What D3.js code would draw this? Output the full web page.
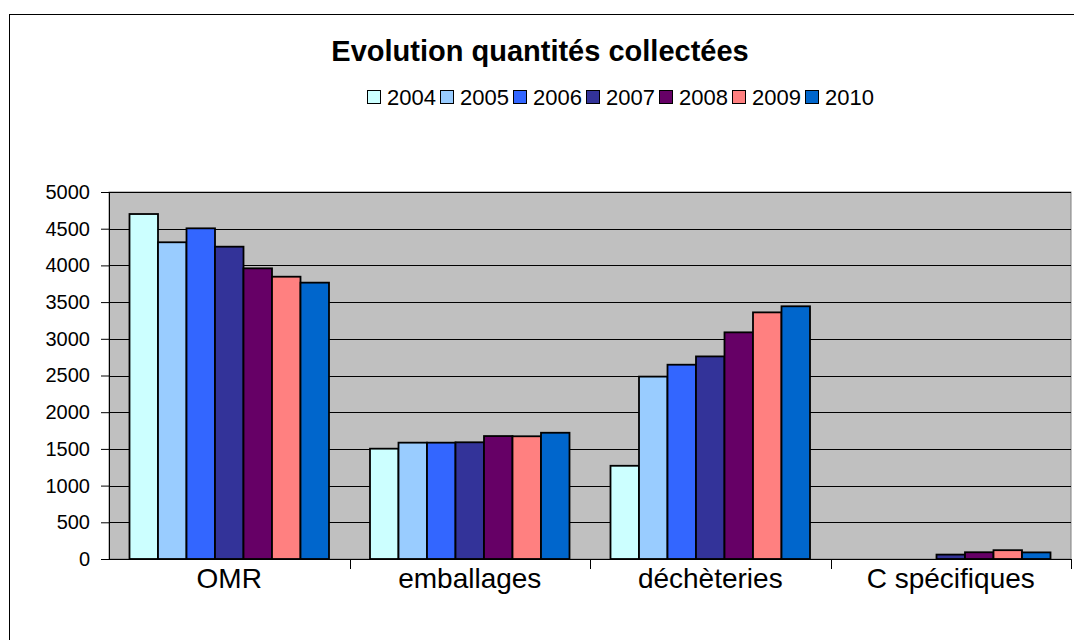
<!DOCTYPE html>
<html>
<head>
<meta charset="utf-8">
<script src="https://cdn.jsdelivr.net/npm/d3@7"></script>
<style>
  body { margin: 0; background: #fff; }
  text { font-family: "Liberation Sans", Arial, sans-serif; }
</style>
</head>
<body>
<div id="container"></div>
<script>
/* CONSTANTS AND GLOBALS */
const width = 1074,
  height = 640,
  margin = {top: 192, left: 109, bottom: 81, right: 3};

/* DATA */
const categories = ["OMR", "emballages", "déchèteries", "C spécifiques"];
const years = ["2004", "2005", "2006", "2007", "2008", "2009", "2010"];
const colors = ["#CCFFFF", "#99CCFF", "#3366FF", "#333399", "#660066", "#FF8080", "#0066CC"];
// one array per category, values in year order
const omr = [4700, 4315, 4505, 4255, 3960, 3846, 3765];
const emballages = [1503, 1585, 1585, 1590, 1675, 1672, 1720];
const decheteries = [1270, 2485, 2647, 2760, 3088, 3360, 3443];
const cSpecifiques = [0, 0, 0, 60, 92, 120, 90];
const yTicks = [0, 500, 1000, 1500, 2000, 2500, 3000, 3500, 4000, 4500, 5000];

const table = categories.map((c, i) => ({
  category: c,
  values: [omr, emballages, decheteries, cSpecifiques][i]
}));

const svg = d3.select("#container")
  .append("svg")
  .attr("width", width)
  .attr("height", height)

// outer chart border
svg.append("rect")
  .attr("x", 9.5).attr("y", 14.5)
  .attr("width", 1080).attr("height", 700)
  .attr("fill", "white")
  .attr("stroke", "black")
  .attr("stroke-width", 1)

// SCALES
const xScale = d3.scaleBand()
  .domain(categories)
  .range([margin.left, width - margin.right])

const gap = 20.5
const x1 = d3.scaleBand()
  .domain(years)
  .range([gap, xScale.bandwidth() - gap])

const yScale = d3.scaleLinear()
  .domain([0, 5000])
  .range([height - margin.bottom, margin.top])

// plot area
svg.append("rect")
  .attr("x", margin.left)
  .attr("y", margin.top)
  .attr("width", width - margin.right - margin.left)
  .attr("height", height - margin.bottom - margin.top)
  .attr("fill", "#C0C0C0")
  .attr("stroke", "#808080")
  .attr("stroke-width", 1)

// gridlines
svg.append("g")
  .selectAll("line")
  .data(yTicks.slice(1))
  .join("line")
  .attr("x1", margin.left)
  .attr("x2", width - margin.right)
  .attr("y1", d => Math.round(yScale(d)) + 0.5)
  .attr("y2", d => Math.round(yScale(d)) + 0.5)
  .attr("stroke", "black")
  .attr("stroke-width", 1)

// BARS
svg.append("g")
  .selectAll("g")
  .data(table)
  .join("g")
  .attr("transform", d => `translate(${xScale(d.category)},0)`)
  .selectAll("rect")
  .data(d => d.values.map((v, i) => ({year: years[i], value: v, color: colors[i]})).filter(d => d.value > 0))
  .join("rect")
  .attr("x", d => x1(d.year))
  .attr("y", d => yScale(d.value))
  .attr("width", x1.bandwidth())
  .attr("height", d => yScale(0) - yScale(d.value))
  .attr("fill", d => d.color)
  .attr("stroke", "black")
  .attr("stroke-width", 1.8)

// AXES
const yAxis = d3.axisLeft(yScale)
  .tickValues(yTicks)
  .tickFormat(d3.format("d"))
  .tickSize(8)
  .tickPadding(11)

svg.append("g")
  .attr("transform", `translate(${margin.left},0)`)
  .call(yAxis)
  .call(g => g.selectAll("path,line").attr("stroke", "black"))
  .call(g => g.selectAll("text").attr("font-size", 20).attr("fill", "black")
    .attr("font-family", "Liberation Sans, Arial, sans-serif"))

const xAxis = d3.axisBottom(xScale).tickSize(0)
const xg = svg.append("g")
  .attr("transform", `translate(0,${height - margin.bottom})`)
  .call(xAxis)
xg.select(".domain").attr("stroke", "black").attr("d", `M${margin.left},0.5H${width - margin.right}`)
xg.selectAll("text")
  .attr("y", 29)
  .attr("dy", 0)
  .attr("font-size", 28)
  .attr("fill", "black")
  .attr("font-family", "Liberation Sans, Arial, sans-serif")

// category separator ticks
xg.append("g")
  .selectAll("line")
  .data(categories)
  .join("line")
  .attr("x1", d => Math.round(xScale(d) + xScale.bandwidth()) + 0.5)
  .attr("x2", d => Math.round(xScale(d) + xScale.bandwidth()) + 0.5)
  .attr("y1", 0)
  .attr("y2", 10)
  .attr("stroke", "black")

// TITLE
svg.append("text")
  .attr("x", 540)
  .attr("y", 61)
  .attr("text-anchor", "middle")
  .attr("font-size", 29)
  .attr("font-weight", "bold")
  .text("Evolution quantités collectées")

// LEGEND
const legend = svg.append("g")
  .attr("transform", "translate(367,90)")
  .selectAll("g")
  .data(years)
  .join("g")
  .attr("transform", (d, i) => `translate(${i * 73},0)`)

legend.append("rect")
  .attr("x", 0.5).attr("y", 0.5)
  .attr("width", 13).attr("height", 13)
  .attr("fill", (d, i) => colors[i])
  .attr("stroke", "black")

legend.append("text")
  .attr("x", 20)
  .attr("y", 15)
  .attr("font-size", 22)
  .text(d => d)
</script>
</body>
</html>
